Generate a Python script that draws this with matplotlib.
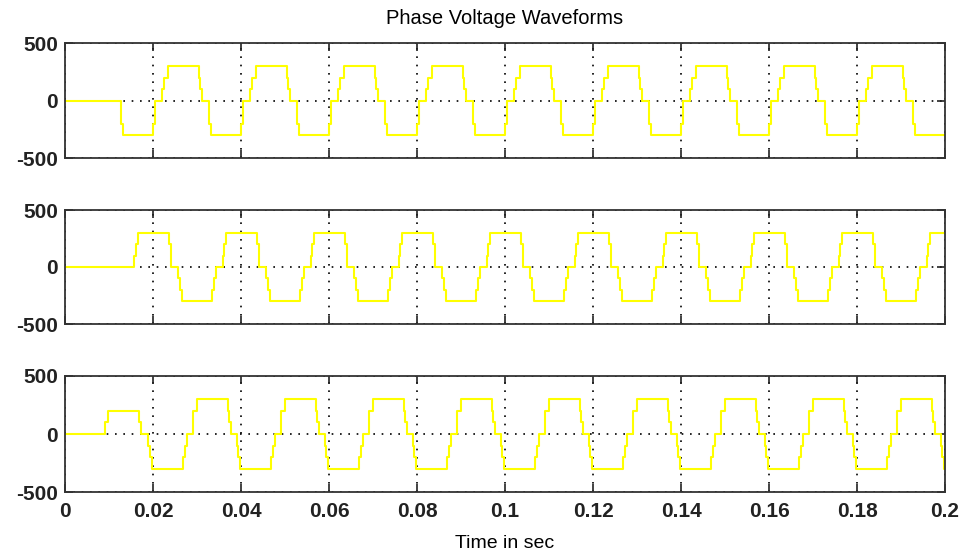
"""
plot.py
----------------------------------------------------------
Phase voltage waveforms of a 7-level inverter (three phases).
Step switching instants read off the reference figure.
"""

import numpy as np
import matplotlib

matplotlib.use("Agg")
import matplotlib.pyplot as plt

# ---------------------------------------------------------------------
# 1. Data (switching instants in s, level after each switch in V)
# ---------------------------------------------------------------------
T_END = 0.2

# phase A : start-up switches, then one repeated cycle
a_start_t = [0.0127, 0.0132]
a_start_v = [-200, -300]
a_cycles = [0.02, 0.04, 0.06, 0.08, 0.10, 0.12, 0.14, 0.16, 0.18]
a_off = [0.0001, 0.0005, 0.0020, 0.0026, 0.0033, 0.0104, 0.0107, 0.0111, 0.0127, 0.0132]
a_lvl = [-200, 0, 100, 200, 300, 200, 100, 0, -200, -300]

# phase B
b_start_t = [0.01575, 0.0161, 0.0165, 0.0236, 0.0240, 0.0257, 0.0261, 0.0266]
b_start_v = [100, 200, 300, 200, 0, -100, -200, -300]
b_cycles = [0.0335, 0.0535, 0.0735, 0.0935, 0.1135, 0.1335, 0.1535, 0.1735, 0.1935]
b_off = [0.0000, 0.0004, 0.0008, 0.0023, 0.0026, 0.0030, 0.0101, 0.0105, 0.0122, 0.0126, 0.0131]
b_lvl = [-200, -100, 0, 100, 200, 300, 200, 0, -100, -200, -300]

# phase C
c_start_t = [0.0091, 0.0098, 0.0168, 0.0172, 0.0189, 0.0193, 0.0197]
c_start_v = [100, 200, 100, 0, -100, -200, -300]
c_cycles = [0.02675, 0.04675, 0.06675, 0.08675, 0.10675, 0.12675, 0.14675, 0.16675, 0.18675]
c_off = [0.0000, 0.0006, 0.0009, 0.0023, 0.0024, 0.0032, 0.0102, 0.0106, 0.0110, 0.0123, 0.0126, 0.0131]
c_lvl = [-200, -100, 0, 100, 200, 300, 200, 100, 0, -100, -200, -300]

x_ticks = [0, 0.02, 0.04, 0.06, 0.08, 0.1, 0.12, 0.14, 0.16, 0.18, 0.2]
x_labels = ["0", "0.02", "0.04", "0.06", "0.08", "0.1", "0.12", "0.14", "0.16", "0.18", "0.2"]
y_ticks = [-500, 0, 500]


# ---------------------------------------------------------------------
# 2. Build step series
# ---------------------------------------------------------------------
def build_steps(start_t, start_v, cycles, off, lvl):
    t = [0.0] + list(start_t)
    v = [0.0] + list(start_v)
    for c in cycles:
        for o, l in zip(off, lvl):
            if c + o < T_END:
                t.append(c + o)
                v.append(l)
    t.append(T_END)
    v.append(v[-1])
    return np.array(t), np.array(v)


phases = [
    build_steps(a_start_t, a_start_v, a_cycles, a_off, a_lvl),
    build_steps(b_start_t, b_start_v, b_cycles, b_off, b_lvl),
    build_steps(c_start_t, c_start_v, c_cycles, c_off, c_lvl),
]

# ---------------------------------------------------------------------
# 3. Plot
# ---------------------------------------------------------------------
tick_font = dict(family=["Liberation Sans", "DejaVu Sans"], weight="bold", size=15)
text_font = ["Liberation Sans", "DejaVu Sans"]

fig = plt.figure(figsize=(9.67, 5.5), dpi=100)
fig.patch.set_facecolor("white")

left, width = 65 / 967, 880 / 967
boxes = [(43, 158), (210, 324), (376, 492)]

for i, ((t, v), (top, bot)) in enumerate(zip(phases, boxes)):
    ax = fig.add_axes([left, 1 - bot / 550, width, (bot - top) / 550])
    ax.plot(t, v, drawstyle="steps-post", color="#FFFF00", lw=1.5)
    ax.set_xlim(0, T_END)
    ax.set_ylim(-500, 500)
    ax.set_xticks(x_ticks)
    ax.set_yticks(y_ticks)
    ax.set_yticklabels([str(y) for y in y_ticks], fontdict=tick_font)
    if i == 2:
        ax.set_xticklabels(x_labels, fontdict=tick_font)
        ax.set_xlabel("Time in sec", family=text_font, fontsize=14, labelpad=10)
    else:
        ax.set_xticklabels([])
    if i == 0:
        ax.set_title("Phase Voltage Waveforms", family=text_font, fontsize=14.5, pad=14)
    ax.tick_params(direction="in", length=6, width=1.2, top=True, right=True,
                   colors="#222222", pad=5)
    ax.tick_params(axis="x", pad=7)
    ax.grid(True, color="black", linestyle=(0, (1, 4)), lw=1.2)
    for s in ax.spines.values():
        s.set_linewidth(1.3)
        s.set_color("#333333")

fig.savefig("out.png", dpi=100, facecolor="white")
